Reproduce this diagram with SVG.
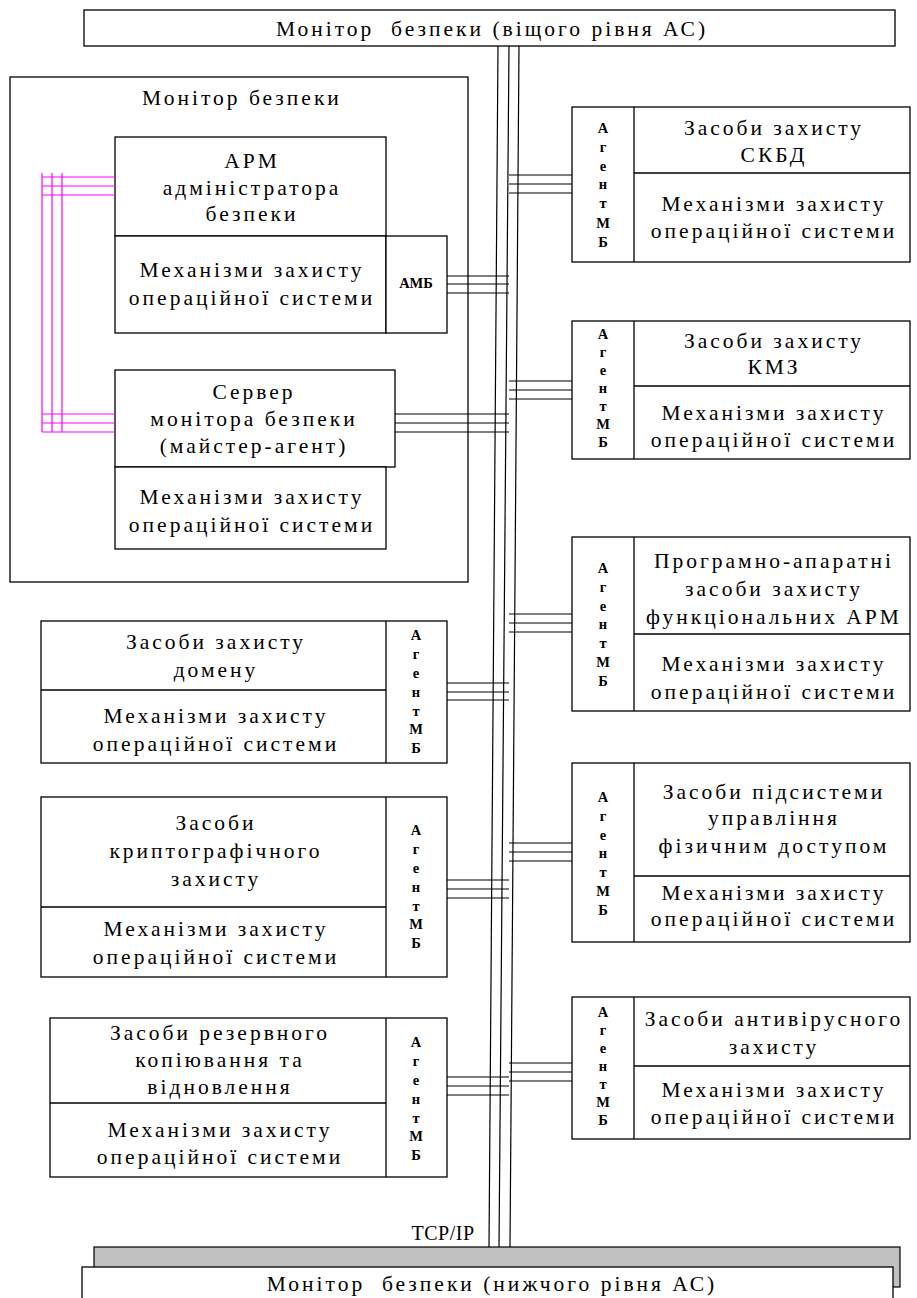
<svg xmlns="http://www.w3.org/2000/svg" width="917" height="1298" viewBox="0 0 917 1298">
<style>
.b{fill:#fff;stroke:#000;stroke-width:1.3}
text{font-family:"Liberation Serif","Times New Roman","DejaVu Serif",serif}
.t{font-size:21.5px;letter-spacing:3px;text-anchor:middle;fill:#000}
.a{font-size:14.5px;font-weight:bold;text-anchor:middle;fill:#000}
.c line{stroke:#000;stroke-width:1.2}
.m line{stroke:#ff00ff;stroke-width:1.2}
</style>
<rect width="917" height="1298" fill="#fff"/>

<g id="top-monitor">
<rect class="b" x="84" y="10" width="811" height="36"/>
<text class="t" x="492" y="36" xml:space="preserve">Монітор  безпеки (віщого рівня АС)</text>
</g>

<g id="bottom-monitor">
<rect x="94" y="1247" width="806" height="40" fill="#c0c0c0" stroke="#000" stroke-width="1.2"/>
<rect class="b" x="82" y="1267" width="811" height="40"/>
<text class="t" x="492" y="1291" xml:space="preserve">Монітор  безпеки (нижчого рівня АС)</text>
<text class="t" x="443" y="1240" style="letter-spacing:0.5px;font-size:20px">TCP/IP</text>
</g>

<g id="monitor">
<rect class="b" x="10" y="77" width="458" height="505"/>
<text class="t" x="242" y="105">Монітор безпеки</text>
</g>

<g id="apm">
<rect class="b" x="115" y="137" width="271" height="99"/>
<text class="t" x="252" y="168">АРМ</text>
<text class="t" x="252" y="195">адміністратора</text>
<text class="t" x="252" y="221">безпеки</text>
<rect class="b" x="115" y="236" width="271" height="97"/>
<text class="t" x="252" y="277">Механізми захисту</text>
<text class="t" x="252" y="305">операційної системи</text>
<rect class="b" x="386" y="236" width="61" height="97"/>
<text class="a" x="416" y="288">АМБ</text>
</g>

<g id="server">
<rect class="b" x="115" y="370" width="280" height="97"/>
<text class="t" x="254" y="399">Сервер</text>
<text class="t" x="254" y="426">монітора безпеки</text>
<text class="t" x="254" y="453">(майстер-агент)</text>
<rect class="b" x="115" y="467" width="271" height="82"/>
<text class="t" x="252" y="504">Механізми захисту</text>
<text class="t" x="252" y="532">операційної системи</text>
</g>

<g id="right-1">
<rect class="b" x="572" y="107" width="338" height="155"/>
<line x1="634" y1="107" x2="634" y2="262" stroke="#000" stroke-width="1.3"/>
<line x1="634" y1="173" x2="910" y2="173" stroke="#000" stroke-width="1.3"/>
<text class="t" x="774" y="135">Засоби захисту</text>
<text class="t" x="774" y="162">СКБД</text>
<text class="t" x="774" y="211">Механізми захисту</text>
<text class="t" x="774" y="238">операційної системи</text>
<g class="a"><text x="603" y="133">А</text><text x="603" y="152">г</text><text x="603" y="171">е</text><text x="603" y="189">н</text><text x="603" y="208">т</text><text x="603" y="228">М</text><text x="603" y="247">Б</text></g>
</g>

<g id="right-2">
<rect class="b" x="572" y="321" width="338" height="138"/>
<line x1="634" y1="321" x2="634" y2="459" stroke="#000" stroke-width="1.3"/>
<line x1="634" y1="386" x2="910" y2="386" stroke="#000" stroke-width="1.3"/>
<text class="t" x="774" y="348">Засоби захисту</text>
<text class="t" x="774" y="374">КМЗ</text>
<text class="t" x="774" y="420">Механізми захисту</text>
<text class="t" x="774" y="447">операційної системи</text>
<g class="a"><text x="603" y="339">А</text><text x="603" y="357">г</text><text x="603" y="375">е</text><text x="603" y="393">н</text><text x="603" y="411">т</text><text x="603" y="429">М</text><text x="603" y="447">Б</text></g>
</g>

<g id="right-3">
<rect class="b" x="572" y="537" width="338" height="174"/>
<line x1="634" y1="537" x2="634" y2="711" stroke="#000" stroke-width="1.3"/>
<line x1="634" y1="634" x2="910" y2="634" stroke="#000" stroke-width="1.3"/>
<text class="t" x="774" y="568">Програмно-апаратні</text>
<text class="t" x="774" y="596">засоби захисту</text>
<text class="t" x="774" y="624">функціональних АРМ</text>
<text class="t" x="774" y="671">Механізми захисту</text>
<text class="t" x="774" y="699">операційної системи</text>
<g class="a"><text x="603" y="573">А</text><text x="603" y="592">г</text><text x="603" y="611">е</text><text x="603" y="629">н</text><text x="603" y="648">т</text><text x="603" y="667">М</text><text x="603" y="686">Б</text></g>
</g>

<g id="right-4">
<rect class="b" x="572" y="763" width="338" height="179"/>
<line x1="634" y1="763" x2="634" y2="942" stroke="#000" stroke-width="1.3"/>
<line x1="634" y1="876" x2="910" y2="876" stroke="#000" stroke-width="1.3"/>
<text class="t" x="774" y="799">Засоби підсистеми</text>
<text class="t" x="774" y="825">управління</text>
<text class="t" x="774" y="853">фізичним доступом</text>
<text class="t" x="774" y="900">Механізми захисту</text>
<text class="t" x="774" y="926">операційної системи</text>
<g class="a"><text x="603" y="802">А</text><text x="603" y="821">г</text><text x="603" y="840">е</text><text x="603" y="858">н</text><text x="603" y="877">т</text><text x="603" y="896">М</text><text x="603" y="915">Б</text></g>
</g>

<g id="right-5">
<rect class="b" x="572" y="997" width="338" height="142"/>
<line x1="634" y1="997" x2="634" y2="1139" stroke="#000" stroke-width="1.3"/>
<line x1="634" y1="1066" x2="910" y2="1066" stroke="#000" stroke-width="1.3"/>
<text class="t" x="774" y="1026">Засоби антивірусного</text>
<text class="t" x="774" y="1054">захисту</text>
<text class="t" x="774" y="1097">Механізми захисту</text>
<text class="t" x="774" y="1124">операційної системи</text>
<g class="a"><text x="603" y="1017">А</text><text x="603" y="1035">г</text><text x="603" y="1053">е</text><text x="603" y="1071">н</text><text x="603" y="1089">т</text><text x="603" y="1107">М</text><text x="603" y="1125">Б</text></g>
</g>

<g id="left-1">
<rect class="b" x="41" y="621" width="406" height="142"/>
<line x1="386" y1="621" x2="386" y2="763" stroke="#000" stroke-width="1.3"/>
<line x1="41" y1="690" x2="386" y2="690" stroke="#000" stroke-width="1.3"/>
<text class="t" x="216" y="649">Засоби захисту</text>
<text class="t" x="216" y="677">домену</text>
<text class="t" x="216" y="723">Механізми захисту</text>
<text class="t" x="216" y="751">операційної системи</text>
<g class="a"><text x="416" y="640">А</text><text x="416" y="659">г</text><text x="416" y="678">е</text><text x="416" y="697">н</text><text x="416" y="716">т</text><text x="416" y="734">М</text><text x="416" y="753">Б</text></g>
</g>

<g id="left-2">
<rect class="b" x="41" y="797" width="406" height="180"/>
<line x1="386" y1="797" x2="386" y2="977" stroke="#000" stroke-width="1.3"/>
<line x1="41" y1="907" x2="386" y2="907" stroke="#000" stroke-width="1.3"/>
<text class="t" x="216" y="830">Засоби</text>
<text class="t" x="216" y="858">криптографічного</text>
<text class="t" x="216" y="886">захисту</text>
<text class="t" x="216" y="936">Механізми захисту</text>
<text class="t" x="216" y="964">операційної системи</text>
<g class="a"><text x="416" y="835">А</text><text x="416" y="854">г</text><text x="416" y="873">е</text><text x="416" y="892">н</text><text x="416" y="911">т</text><text x="416" y="929">М</text><text x="416" y="948">Б</text></g>
</g>

<g id="left-3">
<rect class="b" x="50" y="1018" width="397" height="159"/>
<line x1="386" y1="1018" x2="386" y2="1177" stroke="#000" stroke-width="1.3"/>
<line x1="50" y1="1103" x2="386" y2="1103" stroke="#000" stroke-width="1.3"/>
<text class="t" x="220" y="1040">Засоби резервного</text>
<text class="t" x="220" y="1067">копіювання та</text>
<text class="t" x="220" y="1094">відновлення</text>
<text class="t" x="220" y="1137">Механізми захисту</text>
<text class="t" x="220" y="1164">операційної системи</text>
<g class="a"><text x="416" y="1047">А</text><text x="416" y="1066">г</text><text x="416" y="1085">е</text><text x="416" y="1104">н</text><text x="416" y="1123">т</text><text x="416" y="1141">М</text><text x="416" y="1160">Б</text></g>
</g>

<g id="connectors">
<g class="c">
<line x1="498" y1="46" x2="489" y2="1247"/>
<line x1="509" y1="46" x2="499" y2="1247"/>
<line x1="519" y1="46" x2="510" y2="1247"/>
<line x1="447" y1="276" x2="509" y2="276"/><line x1="447" y1="284" x2="509" y2="284"/><line x1="447" y1="293" x2="509" y2="293"/>
<line x1="395" y1="414" x2="509" y2="414"/><line x1="395" y1="423" x2="509" y2="423"/><line x1="395" y1="432" x2="509" y2="432"/>
<line x1="509" y1="175" x2="572" y2="175"/><line x1="509" y1="184" x2="572" y2="184"/><line x1="509" y1="193" x2="572" y2="193"/>
<line x1="509" y1="381" x2="572" y2="381"/><line x1="509" y1="390" x2="572" y2="390"/><line x1="509" y1="399" x2="572" y2="399"/>
<line x1="509" y1="614" x2="572" y2="614"/><line x1="509" y1="623" x2="572" y2="623"/><line x1="509" y1="632" x2="572" y2="632"/>
<line x1="447" y1="683" x2="509" y2="683"/><line x1="447" y1="692" x2="509" y2="692"/><line x1="447" y1="700" x2="509" y2="700"/>
<line x1="509" y1="843" x2="572" y2="843"/><line x1="509" y1="852" x2="572" y2="852"/><line x1="509" y1="861" x2="572" y2="861"/>
<line x1="447" y1="880" x2="509" y2="880"/><line x1="447" y1="889" x2="509" y2="889"/><line x1="447" y1="898" x2="509" y2="898"/>
<line x1="509" y1="1063" x2="572" y2="1063"/><line x1="509" y1="1072" x2="572" y2="1072"/><line x1="509" y1="1081" x2="572" y2="1081"/>
<line x1="447" y1="1077" x2="509" y2="1077"/><line x1="447" y1="1086" x2="509" y2="1086"/><line x1="447" y1="1095" x2="509" y2="1095"/>
</g>
<g class="m">
<line x1="42" y1="173" x2="42" y2="432"/><line x1="52" y1="173" x2="52" y2="432"/><line x1="62" y1="173" x2="62" y2="432"/>
<line x1="42" y1="177" x2="115" y2="177"/><line x1="42" y1="186" x2="115" y2="186"/><line x1="42" y1="195" x2="115" y2="195"/>
<line x1="42" y1="414" x2="115" y2="414"/><line x1="42" y1="423" x2="115" y2="423"/><line x1="42" y1="432" x2="115" y2="432"/>
</g>
</g>
</svg>
